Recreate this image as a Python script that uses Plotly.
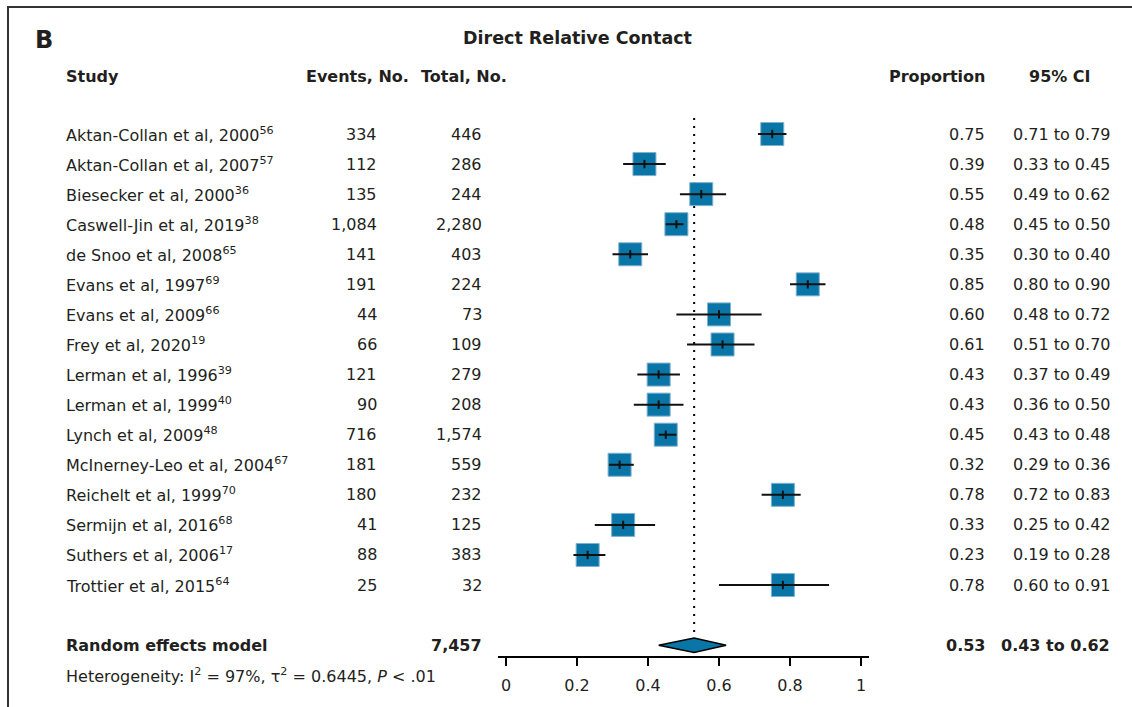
import plotly.graph_objects as go

# ---------------- data ----------------
studies = ["Aktan-Collan et al, 2000", "Aktan-Collan et al, 2007", "Biesecker et al, 2000",
           "Caswell-Jin et al, 2019", "de Snoo et al, 2008", "Evans et al, 1997",
           "Evans et al, 2009", "Frey et al, 2020", "Lerman et al, 1996", "Lerman et al, 1999",
           "Lynch et al, 2009", "McInerney-Leo et al, 2004", "Reichelt et al, 1999",
           "Sermijn et al, 2016", "Suthers et al, 2006", "Trottier et al, 2015"]
refs = ["56", "57", "36", "38", "65", "69", "66", "19", "39", "40", "48", "67", "70", "68", "17", "64"]
events = [334, 112, 135, 1084, 141, 191, 44, 66, 121, 90, 716, 181, 180, 41, 88, 25]
totals = [446, 286, 244, 2280, 403, 224, 73, 109, 279, 208, 1574, 559, 232, 125, 383, 32]
prop = [0.75, 0.39, 0.55, 0.48, 0.35, 0.85, 0.60, 0.61, 0.43, 0.43, 0.45, 0.32, 0.78, 0.33, 0.23, 0.78]
ci_lo = [0.71, 0.33, 0.49, 0.45, 0.30, 0.80, 0.48, 0.51, 0.37, 0.36, 0.43, 0.29, 0.72, 0.25, 0.19, 0.60]
ci_hi = [0.79, 0.45, 0.62, 0.50, 0.40, 0.90, 0.72, 0.70, 0.49, 0.50, 0.48, 0.36, 0.83, 0.42, 0.28, 0.91]

re_total = 7457
re_prop = 0.53
re_lo = 0.43
re_hi = 0.62

tick_vals = [0, 0.2, 0.4, 0.6, 0.8, 1]
tick_text = ["0", "0.2", "0.4", "0.6", "0.8", "1"]

title = "Direct Relative Contact"
panel = "B"
heterogeneity = "Heterogeneity: I<sup>2</sup> = 97%, τ<sup>2</sup> = 0.6445, <i>P</i> &lt; .01"

# ---------------- layout helpers ----------------
W, H = 1132, 707
MB = 50
PH = H - MB
FONT = "DejaVu Sans"
TXT = "#231f20"
BLUE = "#0a76a7"

rows = list(range(1, len(studies) + 1))
re_row = 18


def px(x):
    return x / W


def py(y):
    return (PH - y) / PH


fig = go.Figure()

# dotted summary line
fig.add_trace(go.Scatter(x=[re_prop, re_prop], y=[0.47, re_row - 0.25], mode="lines",
                         line=dict(color="black", width=2, dash="2px,6px"),
                         hoverinfo="skip", showlegend=False))

# boxes
fig.add_trace(go.Scatter(x=prop, y=rows, mode="markers",
                         marker=dict(symbol="square", size=23, color=BLUE,
                                     line=dict(color="#7fb0cf", width=1)),
                         hoverinfo="skip", showlegend=False))

# CI lines
cx, cy = [], []
for r, lo, hi in zip(rows, ci_lo, ci_hi):
    cx += [lo, hi, None]
    cy += [r, r, None]
fig.add_trace(go.Scatter(x=cx, y=cy, mode="lines", line=dict(color="#111111", width=2),
                         hoverinfo="skip", showlegend=False))

# point ticks
fig.add_trace(go.Scatter(x=prop, y=rows, mode="markers",
                         marker=dict(symbol="line-ns", size=6,
                                     line=dict(color="#111111", width=2)),
                         hoverinfo="skip", showlegend=False))

# diamond
fig.add_trace(go.Scatter(x=[re_lo, re_prop, re_hi, re_prop, re_lo],
                         y=[re_row, re_row - 0.24, re_row, re_row + 0.24, re_row],
                         mode="lines", fill="toself", fillcolor=BLUE,
                         line=dict(color="black", width=1.5),
                         hoverinfo="skip", showlegend=False))

ann = []


def add(text, x, y, anchor="left", size=16, bold=False, yref="y"):
    if bold:
        text = "<b>" + text + "</b>"
    ann.append(dict(text=text, x=px(x), y=y, xref="paper", yref=yref,
                    xanchor=anchor, yanchor="middle", showarrow=False,
                    font=dict(family=FONT, size=size, color=TXT), align=anchor))


# panel label and title
add(panel, 33, py(40), size=24, bold=True, yref="paper")
add(title, 577, py(38), anchor="center", size=17.5, bold=True, yref="paper")

# headers
add("Study", 64, py(76), bold=True, yref="paper")
add("Events, No.", 411, py(76), anchor="right", bold=True, yref="paper")
add("Total, No.", 509, py(76), anchor="right", bold=True, yref="paper")
add("Proportion", 987, py(76), anchor="right", bold=True, yref="paper")
add("95% CI", 1093, py(76), anchor="right", bold=True, yref="paper")

for r, s, rf, e, t, p, lo, hi in zip(rows, studies, refs, events, totals, prop, ci_lo, ci_hi):
    add(f"{s}<sup>{rf}</sup>", 64, r)
    add(f"{e:,}", 379, r, anchor="right")
    add(f"{t:,}", 484, r, anchor="right")
    add(f"{p:.2f}", 987, r, anchor="right")
    add(f"{lo:.2f} to {hi:.2f}", 1112, r, anchor="right")

add("Random effects model", 64, re_row, bold=True)
add(f"{re_total:,}", 484, re_row, anchor="right", bold=True)
add(f"{re_prop:.2f}", 987, re_row, anchor="right", bold=True)
add(f"{re_lo:.2f} to {re_hi:.2f}", 1112, re_row, anchor="right", bold=True)
add(heterogeneity, 64, py(675), yref="paper")

shapes = [
    # axis line
    dict(type="line", xref="x", yref="paper", x0=-0.0225, x1=1.0225, y0=0, y1=0,
         line=dict(color="black", width=2)),
    # frame
    dict(type="line", xref="paper", yref="paper", x0=px(8), x1=px(1140), y0=py(7), y1=py(7),
         line=dict(color="#333333", width=2)),
    dict(type="line", xref="paper", yref="paper", x0=px(8), x1=px(8), y0=py(6), y1=py(720),
         line=dict(color="#333333", width=2)),
]

x_left = -506 / 355
x_right = (W - 506) / 355
y_top = (0 - 134) / 30.07 + 1
y_bot = (PH - 134) / 30.07 + 1

fig.update_layout(
    width=W, height=H,
    margin=dict(l=0, r=0, t=0, b=MB),
    paper_bgcolor="white", plot_bgcolor="white",
    annotations=ann, shapes=shapes,
    xaxis=dict(range=[x_left, x_right], tickvals=tick_vals, ticktext=tick_text,
               ticks="outside", ticklen=8, tickwidth=2, tickcolor="black",
               showline=False, showgrid=False, zeroline=False,
               ticklabelstandoff=6,
               tickfont=dict(family=FONT, size=16, color=TXT)),
    yaxis=dict(range=[y_bot, y_top], visible=False, showgrid=False, zeroline=False),
    font=dict(family=FONT, color=TXT),
)

fig.write_html("out.html")
